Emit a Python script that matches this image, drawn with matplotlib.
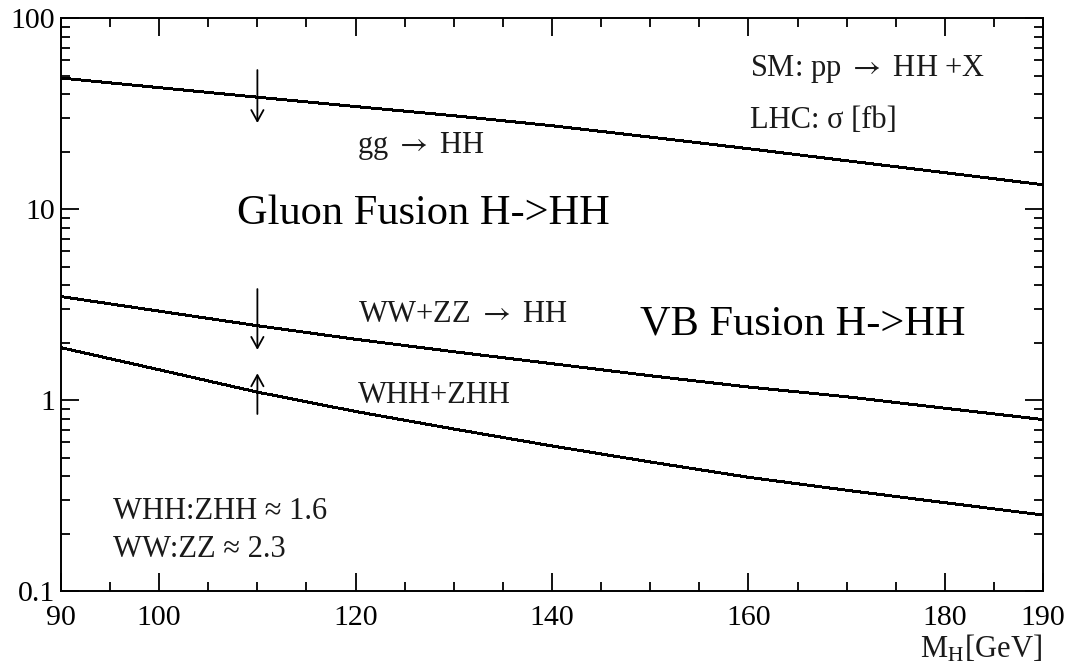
import numpy as np
import matplotlib.pyplot as plt
from matplotlib.ticker import FixedLocator, MultipleLocator, LogLocator, NullFormatter

plt.rcParams['font.family'] = ['Liberation Serif', 'DejaVu Serif']
plt.rcParams['mathtext.fontset'] = 'stix'

# Higgs mass [GeV] and cross sections [fb]
m_h = [90, 100, 110, 120, 130, 140, 150, 160, 170, 180, 190]
sigma_gg = [48.5, 43.2, 38.5, 34.4, 30.8, 27.3, 23.8, 20.7, 17.9, 15.5, 13.4]
sigma_vbf = [3.48, 2.92, 2.45, 2.08, 1.79, 1.55, 1.34, 1.17, 1.04, 0.906, 0.79]
sigma_vhh = [1.88, 1.44, 1.10, 0.871, 0.705, 0.575, 0.474, 0.394, 0.337, 0.29, 0.25]

# arrows at M_H = 110 GeV: (tail, head)
arrow_x = 110
arrow_gg = (53.4, 28.2)
arrow_vbf = (3.81, 1.83)
arrow_vhh = (0.845, 1.38)

x_ticks = [90, 100, 120, 140, 160, 180, 190]
y_ticks = [0.1, 1, 10, 100]
y_labels = ['0.1', '1', '10', '100']

fig = plt.figure(figsize=(10.68, 6.70), dpi=100)
ax = fig.add_axes([0.0571, 0.1179, 0.9195, 0.8552])

for ys in (sigma_gg, sigma_vbf, sigma_vhh):
    ax.plot(m_h, ys, color='black', lw=1.4, antialiased=False)

for tail, head in (arrow_gg, arrow_vbf, arrow_vhh):
    ax.annotate('', xy=(arrow_x, head), xytext=(arrow_x, tail),
                arrowprops=dict(arrowstyle='->, head_length=0.4, head_width=0.22',
                                lw=1.3, color='black', shrinkA=0, shrinkB=0,
                                mutation_scale=20))

ax.set_xlim(90, 190)
ax.set_yscale('log')
ax.set_ylim(0.1, 100)

ax.xaxis.set_major_locator(FixedLocator(x_ticks))
ax.set_xticklabels([str(v) for v in x_ticks])
ax.xaxis.set_minor_locator(MultipleLocator(5))
ax.yaxis.set_major_locator(FixedLocator(y_ticks))
ax.set_yticklabels(y_labels)
ax.yaxis.set_minor_locator(LogLocator(base=10, subs=np.arange(2, 10)))
ax.yaxis.set_minor_formatter(NullFormatter())

ax.tick_params(which='both', direction='in', top=True, right=True,
               width=1.3, colors='black', labelsize=21.5)
ax.tick_params(axis='x', which='major', length=13, pad=10)
ax.tick_params(axis='y', which='major', length=13, pad=4)
ax.tick_params(which='minor', length=6.5)
for s in ax.spines.values():
    s.set_linewidth(1.4)

arrow = r'$\rightarrow$'
small = dict(transform=ax.transAxes, fontsize=22, color='#1a1a1a', va='baseline')
ax.text(0.7016, 0.899, 'SM: pp ' + arrow + ' HH +X', **small)
ax.text(0.7016, 0.808, 'LHC: \u03c3 [fb]', **small)
ax.text(0.3014, 0.764, 'gg ' + arrow + ' HH', **small)
ax.text(0.3024, 0.470, 'WW+ZZ ' + arrow + ' HH', **small)
ax.text(0.3024, 0.3276, 'WHH+ZHH', **small)
ax.text(0.053, 0.1257, 'WHH:ZHH \u2248 1.6', **small)
ax.text(0.053, 0.0599, 'WW:ZZ \u2248 2.3', **small)
ax.text(0.999, -0.116, r'M$_{\mathrm{H}}$[GeV]', ha='right', **small)

big = dict(transform=ax.transAxes, fontsize=30.5, color='black', va='baseline')
ax.text(0.179, 0.6405, 'Gluon Fusion H->HH', **big)
ax.text(0.5896, 0.4468, 'VB Fusion H->HH', **big)

fig.savefig('out.png', dpi=100)
